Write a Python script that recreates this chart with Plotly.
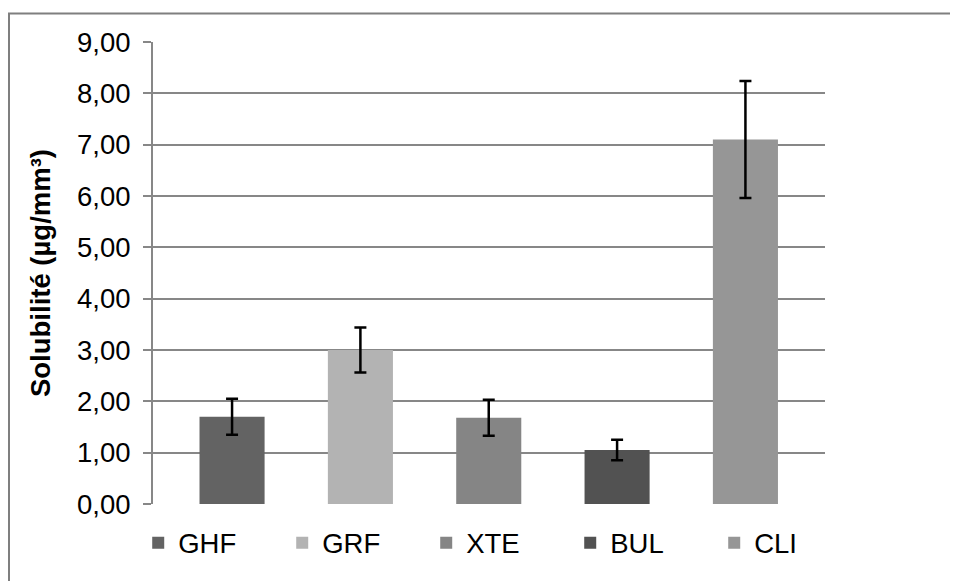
import plotly.graph_objects as go

# data
categories = ["GHF", "GRF", "XTE", "BUL", "CLI"]
solubility = [1.70, 3.00, 1.68, 1.05, 7.10]
errors = [0.35, 0.44, 0.35, 0.20, 1.14]
bar_colors = ["#636363", "#b3b3b3", "#858585", "#525252", "#969696"]
y_ticks = [0, 1, 2, 3, 4, 5, 6, 7, 8, 9]
y_ticklabels = ["0,00", "1,00", "2,00", "3,00", "4,00", "5,00", "6,00", "7,00", "8,00", "9,00"]

FONT = "Liberation Sans, Arial, sans-serif"
GRID = "#878787"
FS = 27.5

fig = go.Figure()

# one trace per category so each gets its own legend entry
for i, cat in enumerate(categories):
    fig.add_trace(go.Bar(
        x=[i],
        y=[solubility[i]],
        name=cat,
        width=0.507,
        marker=dict(color=bar_colors[i], line=dict(width=0)),
        error_y=dict(type="data", array=[errors[i]], visible=True,
                     color="black", thickness=2.5, width=6),
    ))

# page body has an 8px margin, so the figure is a bit smaller than the window
fig.update_layout(
    width=950, height=573,
    margin=dict(l=145, r=133, t=34, b=77),
    paper_bgcolor="white",
    plot_bgcolor="white",
    barmode="overlay",
    font=dict(family=FONT, size=FS, color="black"),
    showlegend=True,
    legend=dict(
        orientation="h",
        x=-0.022, xanchor="left",
        y=-0.084, yanchor="middle",
        entrywidth=99,
        font=dict(size=FS),
        traceorder="normal",
        itemclick=False,
    ),
    xaxis=dict(
        range=[-0.616, 4.62],
        showticklabels=False,
        showgrid=False,
        zeroline=False,
        showline=False,
        ticks="",
    ),
    yaxis=dict(
        range=[0, 9],
        tickvals=y_ticks,
        ticktext=y_ticklabels,
        showgrid=True,
        gridcolor=GRID,
        gridwidth=2,
        zeroline=False,
        showline=True,
        linecolor=GRID,
        linewidth=2,
        ticks="outside",
        ticklen=8,
        tickwidth=2,
        tickcolor=GRID,
        ticklabelstandoff=7,
        tickfont=dict(size=FS),
        title=dict(text="<b>Solubilité (µg/mm³)</b>", font=dict(size=FS), standoff=18),
    ),
    shapes=[
        # outer chart border (runs off the right and bottom of the picture)
        dict(type="rect", xref="paper", yref="paper",
             x0=(1 - 145) / 672, x1=(960 - 145) / 672,
             y0=-0.3, y1=1 + (34 - 5.5) / 462,
             line=dict(color="#7f7f7f", width=2), fillcolor="rgba(0,0,0,0)",
             layer="below"),
    ],
)

fig.write_html("out.html")
